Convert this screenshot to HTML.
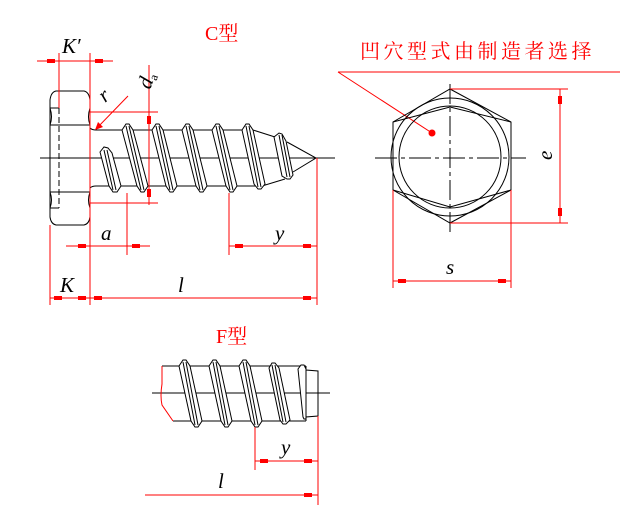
<!DOCTYPE html>
<html><head><meta charset="utf-8"><style>
html,body{margin:0;padding:0;background:#fff;}
svg{display:block;}
.k{stroke:#000;stroke-width:1;fill:none;}
.r{stroke:#f00;stroke-width:1;fill:none;}
.t{fill:#fff;stroke:#000;stroke-width:1;}
.lab{font-family:"Liberation Serif",serif;font-style:italic;font-size:21px;fill:#000;}
.red{font-family:"Liberation Serif","Noto Serif CJK SC",serif;font-size:20px;fill:#f00;}
</style></head><body>
<svg width="644" height="513" viewBox="0 0 644 513" xmlns="http://www.w3.org/2000/svg">
<defs>
<g id="ah"><rect x="-4" y="-2" width="8" height="4" fill="#f00"/></g>
<g id="av"><rect x="-2" y="-4" width="4" height="8" fill="#f00"/></g>
</defs>

<!-- ===== C type ===== -->
<text class="red" x="205" y="40">C型</text>

<!-- head -->
<path class="k" d="M56,91 L84,91 Q89,92 90,100 L90,217 Q89,224 84,225 L56,225 Q51,224 50,217 L50,100 Q51,92 56,91 Z"/>
<path class="k" d="M50,125 L90,125 M50,192 L90,192 M50,108 L59,108 M50,208 L59,208"/>
<path class="k" d="M50,108 Q53,117 50,125 M90,108 Q87,117 90,125 M50,192 Q53,200 50,208 M90,192 Q87,200 90,208"/>
<line x1="59" y1="108" x2="59" y2="208" stroke="#000" stroke-dasharray="6,3"/>

<!-- shank -->
<path class="k" d="M90,128 Q92,130 96,130 L253,130 L275,137"/>
<path class="k" d="M90,188 Q92,186 96,186 L262,186 L285,179"/>
<path class="k" d="M287,142 L316,158 L293,172"/>
<line class="k" x1="40" y1="158" x2="335" y2="158"/>

<!-- first partial thread -->
<polygon class="t" points="100,152 104,147 108,148 112,153 121,186 117,192 113,192 109,186"/>
<path class="k" d="M104,150 L113,190 M107,150 L116,190"/>

<!-- threads -->
<g>
<polygon class="t" points="122,130 126,124 129,124 133,130 148,186 144,192 141,192 137,186"/>
<path class="k" d="M126,126 L141,190 M129,126 L144,190"/>
<polygon class="t" points="152,130 156,124 159,124 163,130 177,186 173,192 170,192 166,186"/>
<path class="k" d="M156,126 L170,190 M159,126 L173,190"/>
<polygon class="t" points="182,130 186,124 189,124 193,130 207,186 203,192 200,192 196,186"/>
<path class="k" d="M186,126 L200,190 M189,126 L203,190"/>
<polygon class="t" points="212,130 216,124 219,124 223,130 237,186 233,192 230,192 226,186"/>
<path class="k" d="M216,126 L230,190 M219,126 L233,190"/>
<polygon class="t" points="242,130 246,124 249,124 253,130 265,184 261,189 258,189 254,184"/>
<path class="k" d="M246,126 L258,187 M249,126 L261,187"/>
<polygon class="t" points="274,137 279,133 282,134 286,141 293,175 290,179 287,179 282,176"/>
<path class="k" d="M279,135 L287,177 M282,135 L290,177"/>
</g>

<!-- C dimensions -->
<path class="r" d="M37,61 L113,61 M59,53 L59,108 M90,53 L90,305 M50,225 L50,305"/>
<use href="#ah" x="51" y="61"/><use href="#ah" x="99" y="61"/>
<text class="lab" x="62" y="53">K′</text>
<!-- da -->
<path class="r" d="M90,112 L158,112 M90,203 L158,203 M149,65 L149,205"/>
<use href="#av" x="149" y="120"/><use href="#av" x="149" y="193"/>
<text class="lab" transform="translate(150,90) rotate(-70)" x="0" y="0">d<tspan font-size="12" font-style="normal" dy="3">a</tspan></text>
<!-- r -->
<line class="r" x1="128" y1="96" x2="96" y2="129"/>
<polygon points="95,130 98,122 103,127" fill="#f00"/>
<text class="lab" transform="translate(105,103) rotate(-40)" x="0" y="0">r</text>
<!-- a -->
<path class="r" d="M66,246 L150,246 M127,193 L127,255"/>
<use href="#ah" x="82" y="246"/><use href="#ah" x="136" y="246"/>
<text class="lab" x="101" y="240">a</text>
<!-- y -->
<path class="r" d="M229,246 L317,246 M229,193 L229,255 M317,158 L317,305"/>
<use href="#ah" x="239" y="246"/><use href="#ah" x="307" y="246"/>
<text class="lab" x="275" y="240">y</text>
<!-- K, l -->
<path class="r" d="M50,298 L317,298"/>
<use href="#ah" x="58" y="298"/><use href="#ah" x="82" y="298"/><use href="#ah" x="98" y="298"/><use href="#ah" x="307" y="298"/>
<text class="lab" x="60" y="292">K</text>
<text class="lab" x="178" y="292">l</text>

<!-- ===== head view ===== -->
<text class="red" x="360" y="58" letter-spacing="3.5">凹穴型式由制造者选择</text>
<path class="r" d="M338,72 L620,72 M338,72 L432,133"/>
<circle cx="432" cy="133" r="3.5" fill="#f00"/>
<polygon class="k" points="450,89 511,122 511,190 450,223 393,190 393,122"/>
<circle class="k" cx="450" cy="157" r="59"/>
<circle class="k" cx="450" cy="157" r="51"/>
<path class="k" d="M393,122 L450,107 L511,122 M393,190 L450,207 L511,190" stroke-width="0"/>
<line x1="450" y1="84" x2="450" y2="236" stroke="#000" stroke-dasharray="20,4,4,4"/>
<line x1="375" y1="158" x2="526" y2="158" stroke="#000" stroke-dasharray="22,4,4,4"/>
<!-- e -->
<path class="r" d="M450,89 L568,89 M450,223 L568,223 M560,89 L560,223"/>
<use href="#av" x="560" y="100"/><use href="#av" x="560" y="212"/>
<text class="lab" transform="translate(540,152) rotate(-90)" x="-8" y="12" style="font-style:italic">e</text>
<!-- s -->
<path class="r" d="M393,190 L393,288 M511,190 L511,288 M393,281 L511,281"/>
<use href="#ah" x="402" y="281"/><use href="#ah" x="502" y="281"/>
<text class="lab" x="446" y="274">s</text>

<!-- ===== F type ===== -->
<text class="red" x="216" y="343">F型</text>
<line class="k" x1="152" y1="393" x2="330" y2="393"/>
<path class="k" d="M162,366 L306,366 M173,421 L306,421"/>
<path class="k" d="M306,366 L306,370 L318,371 L318,416 L306,417 L306,421"/>
<path class="r" d="M162,366 L162,384 Q160,396 162,405 L173,421"/>
<g>
<polygon class="t" points="179,366 183,360 186,360 190,366 202,421 198,427 195,427 191,421"/>
<path class="k" d="M183,362 L195,425 M186,362 L198,425"/>
<polygon class="t" points="209,366 213,360 216,360 220,366 232,421 228,427 225,427 221,421"/>
<path class="k" d="M213,362 L225,425 M216,362 L228,425"/>
<polygon class="t" points="239,366 243,360 246,360 250,366 262,421 258,427 255,427 251,421"/>
<path class="k" d="M243,362 L255,425 M246,362 L258,425"/>
<polygon class="t" points="269,368 272,363 275,363 279,368 290,420 286,424 283,424 280,420"/>
<path class="k" d="M272,365 L283,422 M275,365 L286,422"/>
<polygon class="t" points="298,369 301,365 304,365 306,369 306,417 306,419 304,419 303,417"/>
</g>
<path class="r" d="M255,427 L255,470 M318,416 L318,505 M255,461 L318,461 M145,495 L318,495"/>
<use href="#ah" x="264" y="461"/><use href="#ah" x="308" y="461"/><use href="#ah" x="308" y="495"/>
<text class="lab" x="281" y="454">y</text>
<text class="lab" x="218" y="488">l</text>
</svg>
</body></html>
